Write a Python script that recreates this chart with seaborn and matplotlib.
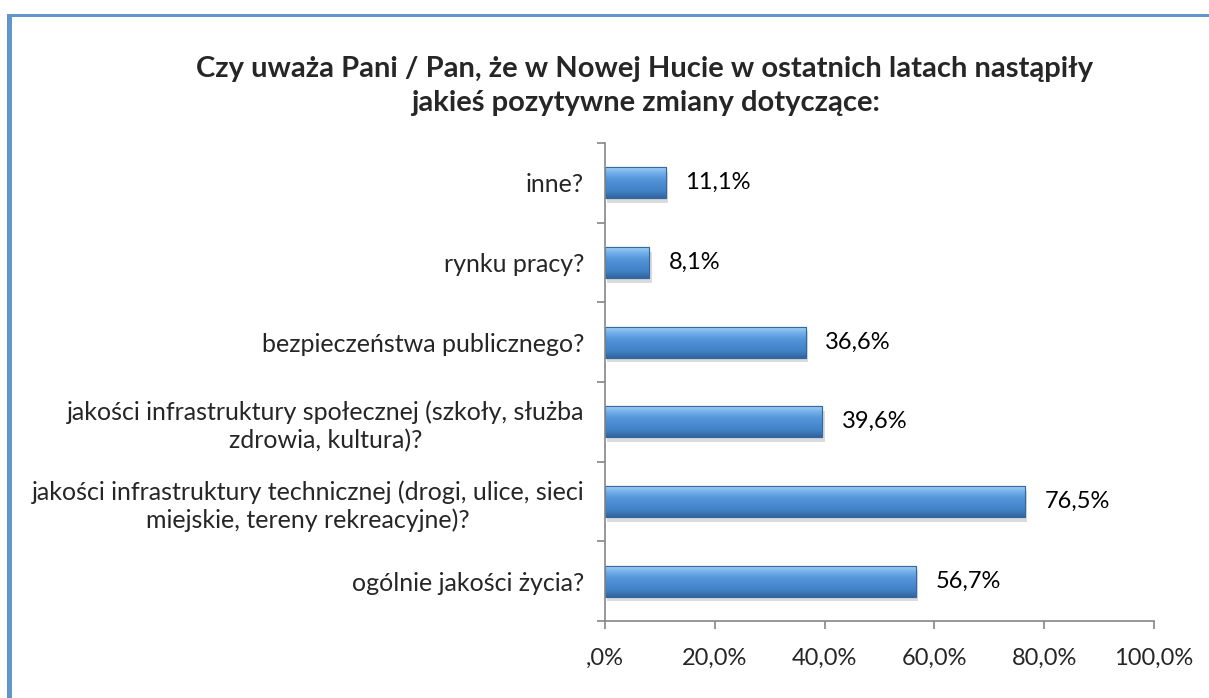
import numpy as np
import pandas as pd
import matplotlib
matplotlib.use("Agg")
import matplotlib.pyplot as plt
import seaborn as sns
from matplotlib.patches import Rectangle

sns.set_theme(style="white")
plt.rcParams['font.family'] = ['Lato', 'DejaVu Sans']
plt.rcParams['axes.unicode_minus'] = False

TITLE = "Czy uważa Pani / Pan, że w Nowej Hucie w ostatnich latach nastąpiły\njakieś pozytywne zmiany dotyczące:"

CATEGORIES = [
    "inne?",
    "rynku pracy?",
    "bezpieczeństwa publicznego?",
    "jakości infrastruktury społecznej (szkoły, służba\nzdrowia, kultura)?",
    "jakości infrastruktury technicznej (drogi, ulice, sieci\nmiejskie, tereny rekreacyjne)?",
    "ogólnie jakości życia?",
]
VALUES = [11.1, 8.1, 36.6, 39.6, 76.5, 56.7]
VALUE_LABELS = ["11,1%", "8,1%", "36,6%", "39,6%", "76,5%", "56,7%"]
X_TICKS = [0, 20, 40, 60, 80, 100]
X_TICK_LABELS = [",0%", "20,0%", "40,0%", "60,0%", "80,0%", "100,0%"]

df = pd.DataFrame({"category": CATEGORIES, "value": VALUES})

fig = plt.figure(figsize=(12.09, 6.98), dpi=100)
ax = fig.add_axes([605 / 1209, 77 / 698, 549 / 1209, 478 / 698])

sns.barplot(data=df, y="category", x="value", order=CATEGORIES, orient="h",
            color="#4A8BD0", width=0.39, ax=ax, saturation=1)

# gradient fill + shadow to mimic the bevelled excel bars
grad = np.linspace(0, 1, 100).reshape(-1, 1)
cmap = matplotlib.colors.LinearSegmentedColormap.from_list(
    "bev", ["#A8D4F7", "#74B1EA", "#5596DA", "#4B8AD0", "#4080C4", "#31649C"])
for p in list(ax.patches):
    x0, y0 = p.get_x(), p.get_y()
    w, h = p.get_width(), p.get_height()
    shadow = Rectangle((x0 + 0.4, y0 + 0.06), w, h, color="#9a9a9a", alpha=0.35,
                       zorder=p.get_zorder() - 0.2, linewidth=0)
    ax.add_patch(shadow)
    im = ax.imshow(grad, cmap=cmap, aspect="auto", extent=[x0, x0 + w, y0 + h, y0],
                   zorder=p.get_zorder() + 0.1, interpolation="bicubic")
    im.set_clip_path(p)
    p.set_edgecolor("#2E6199")
    p.set_linewidth(0.8)
    top = Rectangle((x0, y0), w, h, fill=False, edgecolor="#3468A3", linewidth=0.8,
                    zorder=p.get_zorder() + 0.2)
    ax.add_patch(top)

for i, (v, lab) in enumerate(zip(VALUES, VALUE_LABELS)):
    ax.annotate(lab, (v, i), xytext=(14, 0), textcoords="offset points",
                ha="left", va="center", fontsize=17, color="black")

ax.set_xlim(0, 100)
ax.set_ylim(len(CATEGORIES) - 0.5, -0.5)
ax.set_xticks(X_TICKS)
ax.set_xticklabels(X_TICK_LABELS, fontsize=17)
ax.set_yticks(range(len(CATEGORIES)))
ax.set_yticklabels(CATEGORIES, fontsize=18, multialignment="center", linespacing=1.25)
ax.set_yticks(np.arange(-0.5, len(CATEGORIES), 1), minor=True)
ax.tick_params(axis="y", which="major", length=0, pad=15)
ax.tick_params(axis="y", which="minor", length=6, color="#868686", width=1.2, left=True)
ax.tick_params(axis="x", which="major", length=6, color="#868686", width=1.2, bottom=True, pad=13)
ax.set_xlabel("")
ax.set_ylabel("")
for s in ["top", "right"]:
    ax.spines[s].set_visible(False)
for s in ["left", "bottom"]:
    ax.spines[s].set_color("#868686")
    ax.spines[s].set_linewidth(1.2)
ax.grid(False)

fig.text(645 / 1209, 1 - 86 / 698, TITLE, ha="center", va="center",
         fontsize=21, fontweight="bold", linespacing=1.4)

# blue frame on left and top edges
frame_color = "#6096CB"
fig.add_artist(Rectangle((7 / 1209, 0), 5 / 1209, 1 - 14 / 698, transform=fig.transFigure,
                         color=frame_color, linewidth=0))
fig.add_artist(Rectangle((7 / 1209, 1 - 17 / 698), 1, 3 / 698, transform=fig.transFigure,
                         color=frame_color, linewidth=0))

fig.savefig("out.png", dpi=100)
